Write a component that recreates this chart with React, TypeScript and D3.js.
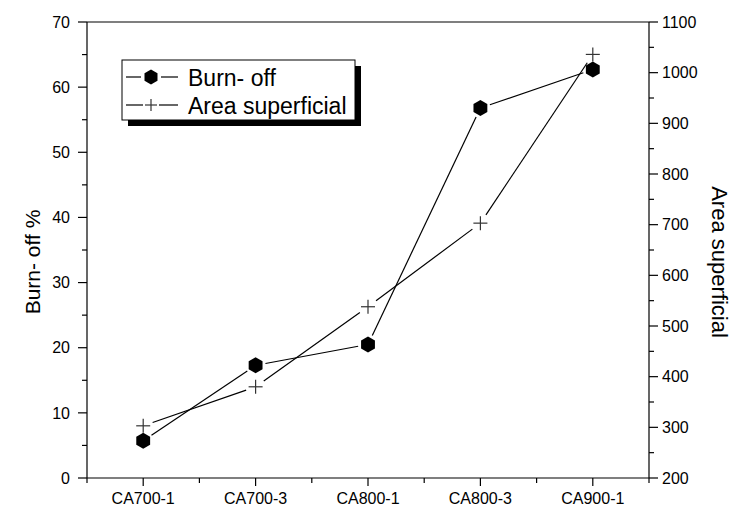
import React from "react";
import * as d3 from "d3";

const categories = ["CA700-1", "CA700-3", "CA800-1", "CA800-3", "CA900-1"];
const burnOff = [5.7, 17.3, 20.5, 56.8, 62.7];
const areaSuperficial = [303, 380, 538, 703, 1036];
const leftTicks = [0, 10, 20, 30, 40, 50, 60, 70];
const rightTicks = [200, 300, 400, 500, 600, 700, 800, 900, 1000, 1100];

const W = 736;
const H = 508;
const FONT = "'Liberation Sans', Arial, sans-serif";

const x = d3.scaleLinear().domain([0.5, 5.5]).range([87, 649]);
const yL = d3.scaleLinear().domain([0, 70]).range([478, 22]);
const yR = d3.scaleLinear().domain([200, 1100]).range([478, 22]);

function gappedSegments(pts: [number, number][], g0: number, g1: number) {
  const segs: string[] = [];
  for (let i = 0; i < pts.length - 1; i++) {
    const [ax, ay] = pts[i];
    const [bx, by] = pts[i + 1];
    const dx = bx - ax, dy = by - ay;
    const len = Math.hypot(dx, dy);
    if (len <= g0 + g1) continue;
    const ux = dx / len, uy = dy / len;
    const p = d3.path();
    p.moveTo(ax + ux * g0, ay + uy * g0);
    p.lineTo(bx - ux * g1, by - uy * g1);
    segs.push(p.toString());
  }
  return segs;
}

function hexPath(cx: number, cy: number, r: number) {
  const p = d3.path();
  for (let k = 0; k < 6; k++) {
    const a = Math.PI / 2 + (k * Math.PI) / 3;
    const px = cx + r * Math.cos(a);
    const py = cy + r * Math.sin(a);
    if (k === 0) p.moveTo(px, py);
    else p.lineTo(px, py);
  }
  p.closePath();
  return p.toString();
}

function Plus({ cx, cy, s }: { cx: number; cy: number; s: number }) {
  return (
    <g stroke="#333" strokeWidth={1.2}>
      <line x1={cx - s} x2={cx + s} y1={cy} y2={cy} />
      <line x1={cx} x2={cx} y1={cy - s} y2={cy + s} />
    </g>
  );
}

export default function App() {
  const burnPts: [number, number][] = burnOff.map((v, i) => [x(i + 1), yL(v)]);
  const areaPts: [number, number][] = areaSuperficial.map((v, i) => [x(i + 1), yR(v)]);
  const leftMinor = d3.range(5, 70, 10);
  const rightMinor = d3.range(250, 1100, 100);
  const xMinor = d3.range(0.5, 6, 1);

  const lgX = 122, lgY = 60, lgW = 233, lgH = 60;
  const r1 = 77, r2 = 105;
  const midY = 262;

  return (
    <svg width={W} height={H} style={{ position: "absolute", left: 0, top: 0, background: "#fff" }} fontFamily={FONT}>
      <rect x={0} y={0} width={W} height={H} fill="#fff" />
      {/* frame */}
      <g stroke="#000" strokeWidth={1.2} fill="none">
        <line x1={x(0.5)} x2={x(5.5)} y1={yL(70)} y2={yL(70)} />
        <line x1={x(0.5)} x2={x(5.5)} y1={yL(0)} y2={yL(0)} />
        <line x1={x(0.5)} x2={x(0.5)} y1={yL(0)} y2={yL(70)} />
        <line x1={x(5.5)} x2={x(5.5)} y1={yL(0)} y2={yL(70)} />
      </g>
      {/* ticks */}
      <g stroke="#000" strokeWidth={1.2}>
        {leftTicks.map((t) => (
          <line key={"lt" + t} x1={x(0.5) - 9} x2={x(0.5)} y1={yL(t)} y2={yL(t)} />
        ))}
        {leftMinor.map((t) => (
          <line key={"lm" + t} x1={x(0.5) - 5} x2={x(0.5)} y1={yL(t)} y2={yL(t)} />
        ))}
        {rightTicks.map((t) => (
          <line key={"rt" + t} x1={x(5.5)} x2={x(5.5) + 9} y1={yR(t)} y2={yR(t)} />
        ))}
        {rightMinor.map((t) => (
          <line key={"rm" + t} x1={x(5.5)} x2={x(5.5) + 5} y1={yR(t)} y2={yR(t)} />
        ))}
        {categories.map((c, i) => (
          <line key={"xt" + c} x1={x(i + 1)} x2={x(i + 1)} y1={yL(0)} y2={yL(0) + 8} />
        ))}
        {xMinor.map((t) => (
          <line key={"xm" + t} x1={x(t)} x2={x(t)} y1={yL(0)} y2={yL(0) + 5} />
        ))}
      </g>
      {/* tick labels */}
      <g fontSize={16} fill="#000">
        {leftTicks.map((t) => (
          <text key={"ll" + t} x={x(0.5) - 17} y={yL(t)} dy="0.36em" textAnchor="end">{t}</text>
        ))}
        {rightTicks.map((t) => (
          <text key={"rl" + t} x={x(5.5) + 13} y={yR(t)} dy="0.36em" textAnchor="start">{t}</text>
        ))}
        {categories.map((c, i) => (
          <text key={"xl" + c} x={x(i + 1)} y={504} textAnchor="middle">{c}</text>
        ))}
      </g>
      {/* axis titles */}
      <text transform={`translate(40,${midY}) rotate(-90)`} textAnchor="middle" fontSize={21}>Burn- off %</text>
      <text transform={`translate(712,${midY}) rotate(90)`} textAnchor="middle" fontSize={22}>Area superficial</text>
      {/* series lines */}
      <g stroke="#000" strokeWidth={1.2} fill="none">
        {gappedSegments(burnPts, 10, 10).map((d, i) => <path key={"b" + i} d={d} />)}
        {gappedSegments(areaPts, 10, 10).map((d, i) => <path key={"a" + i} d={d} />)}
      </g>
      {/* markers */}
      {burnPts.map(([cx, cy], i) => (
        <path key={"bh" + i} d={hexPath(cx, cy, 8)} fill="#000" />
      ))}
      {areaPts.map(([cx, cy], i) => (
        <Plus key={"ap" + i} cx={cx} cy={cy} s={7} />
      ))}
      {/* legend */}
      <rect x={lgX + 6} y={lgY + 6} width={lgW} height={lgH} fill="#000" />
      <rect x={lgX} y={lgY} width={lgW} height={lgH} fill="#fff" stroke="#000" strokeWidth={1} />
      <g stroke="#000" strokeWidth={1.2}>
        <line x1={lgX + 4} x2={lgX + 19} y1={r1} y2={r1} />
        <line x1={lgX + 39} x2={lgX + 56} y1={r1} y2={r1} />
        <line x1={lgX + 4} x2={lgX + 21} y1={r2} y2={r2} />
        <line x1={lgX + 37} x2={lgX + 56} y1={r2} y2={r2} />
      </g>
      <path d={hexPath(lgX + 29, r1, 7.5)} fill="#000" />
      <Plus cx={lgX + 29} cy={r2} s={6} />
      <g fontSize={23} fill="#000">
        <text x={lgX + 66} y={r1 + 8.5}>Burn- off</text>
        <text x={lgX + 66} y={r2 + 8.5}>Area superficial</text>
      </g>
    </svg>
  );
}
